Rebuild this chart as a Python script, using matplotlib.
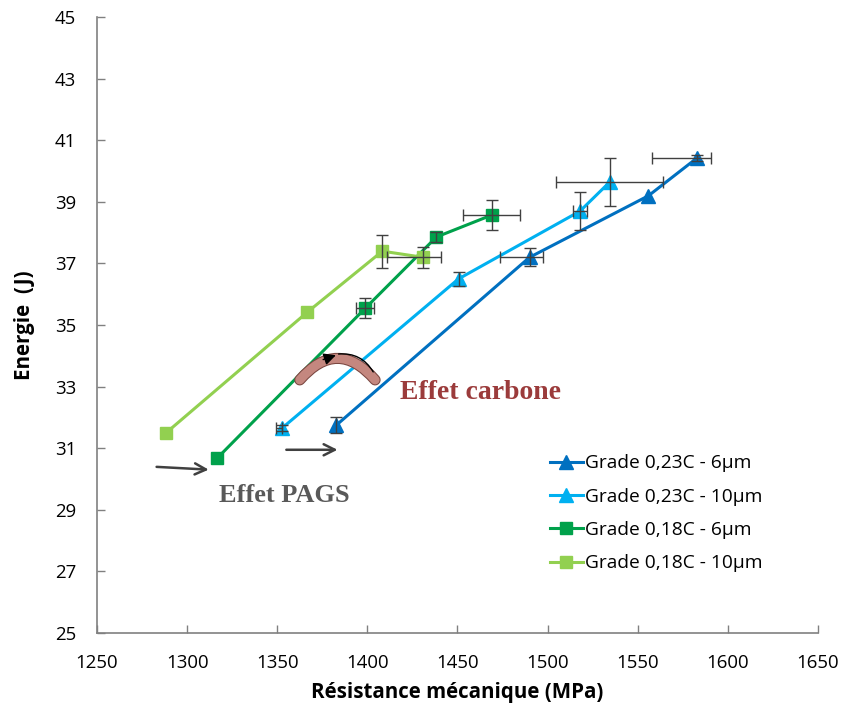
import numpy as np
import matplotlib
matplotlib.use("Agg")
from matplotlib import pyplot as plt
from matplotlib.patches import FancyArrowPatch
import matplotlib.patheffects as pe

plt.rcParams['font.family'] = ['Open Sans', 'DejaVu Sans']

labels = ['Grade 0,23C - 6µm', 'Grade 0,23C - 10µm', 'Grade 0,18C - 6µm', 'Grade 0,18C - 10µm']
colors = ['#0070c0', '#00b0f0', '#00a14b', '#92d050']
markers = ['^', '^', 's', 's']

x_023_6 = [1382.8, 1490.0, 1556.0, 1582.8]
y_023_6 = [31.75, 37.2, 39.2, 40.42]
x_023_10 = [1352.8, 1450.6, 1518.0, 1534.4]
y_023_10 = [31.66, 36.5, 38.7, 39.64]
x_018_6 = [1316.7, 1398.9, 1438.3, 1468.9]
y_018_6 = [30.68, 35.55, 37.86, 38.57]
x_018_10 = [1288.3, 1366.7, 1408.3, 1431.1]
y_018_10 = [31.5, 35.42, 37.4, 37.2]

# error bars (low, high) in MPa and J
xerr_lo_023_6 = [0, 16.5, 0, 25.0]
xerr_hi_023_6 = [0, 7.5, 0, 8.0]
yerr_023_6 = [0.26, 0.29, 0, 0.1]
xerr_lo_023_10 = [3.5, 0, 4.0, 29.8]
xerr_hi_023_10 = [0, 0, 4.0, 29.8]
yerr_023_10 = [0.1, 0.23, 0.62, 0.78]
xerr_lo_018_6 = [0, 5.0, 0, 15.7]
xerr_hi_018_6 = [0, 5.0, 0, 15.7]
yerr_018_6 = [0, 0.32, 0.15, 0.48]
xerr_lo_018_10 = [0, 0, 0, 20.0]
xerr_hi_018_10 = [0, 0, 0, 9.5]
yerr_018_10 = [0, 0, 0.54, 0.35]

series = [
    (x_023_6, y_023_6, xerr_lo_023_6, xerr_hi_023_6, yerr_023_6),
    (x_023_10, y_023_10, xerr_lo_023_10, xerr_hi_023_10, yerr_023_10),
    (x_018_6, y_018_6, xerr_lo_018_6, xerr_hi_018_6, yerr_018_6),
    (x_018_10, y_018_10, xerr_lo_018_10, xerr_hi_018_10, yerr_018_10),
]

fig = plt.figure(figsize=(8.44, 7.07), dpi=100)
ax = fig.add_axes([0.115, 0.1047, 0.854, 0.871])

for (x, y, xl, xh, ye), lab, c, m in zip(series, labels, colors, markers):
    ax.plot(x, y, color=c, lw=2.2, marker=m, markersize=10 if m == '^' else 9,
            label=lab, zorder=3)
    x = np.array(x); y = np.array(y)
    xl = np.array(xl); xh = np.array(xh); ye = np.array(ye)
    kx = (xl + xh) > 0
    if kx.any():
        ax.errorbar(x[kx], y[kx], xerr=[xl[kx], xh[kx]], fmt='none',
                    ecolor='#404040', elinewidth=1, capsize=4, capthick=1, zorder=4)
    ky = ye > 0
    if ky.any():
        ax.errorbar(x[ky], y[ky], yerr=ye[ky], fmt='none',
                    ecolor='#404040', elinewidth=1, capsize=4, capthick=1, zorder=4)

ax.set_xlim(1250, 1650)
ax.set_ylim(25, 45)
ax.set_xticks(np.arange(1250, 1651, 50))
ax.set_yticks(np.arange(25, 46, 2))
ax.spines['top'].set_visible(False)
ax.spines['right'].set_visible(False)
for s in ['left', 'bottom']:
    ax.spines[s].set_color('#808080')
    ax.spines[s].set_linewidth(1.2)
ax.tick_params(direction='in', length=6, width=1, color='#808080',
               labelsize=13.4, labelcolor='#000000', pad=15)

ax.set_xlabel('Résistance mécanique (MPa)', fontsize=14.8, fontweight='bold', labelpad=7)
ax.set_ylabel('Energie  (J)', fontsize=14.8, fontweight='bold', labelpad=14)

ax.legend(loc='upper left', bbox_to_anchor=(0.604, 0.318), frameon=False,
          fontsize=13.8, handlelength=1.75, handletextpad=0.1, labelspacing=0.8)

# annotations
serif = ['Liberation Serif', 'DejaVu Serif']
ax.text(1418, 32.8, 'Effet carbone', family=serif, fontweight='bold',
        fontsize=20, color='#9b3b3b', va='center', ha='left')
ax.text(1317.5, 29.45, 'Effet PAGS', family=serif, fontweight='bold',
        fontsize=19, color='#595959', va='center', ha='left')

ax.annotate('', xy=(1313.5, 30.3), xytext=(1281.5, 30.4),
            arrowprops=dict(arrowstyle='->', color='#404040', lw=1.8,
                            mutation_scale=20))
ax.annotate('', xy=(1385, 30.95), xytext=(1353.5, 30.95),
            arrowprops=dict(arrowstyle='->', color='#404040', lw=1.8,
                            mutation_scale=20))

arc = FancyArrowPatch((1361.5, 33.15), (1405.3, 33.15),
                      connectionstyle='arc3,rad=-0.6', arrowstyle='-',
                      color='#c4877f', lw=6.5, zorder=5,
                      path_effects=[pe.Stroke(linewidth=8, foreground='#7a4640'), pe.Normal()])
ax.add_patch(arc)
ax.add_patch(FancyArrowPatch((1382.5, 34.05), (1404.0, 33.4),
                             connectionstyle='arc3,rad=-0.35', arrowstyle='-',
                             color='black', lw=1, zorder=6))
ax.annotate('', xy=(1384, 34.05), xytext=(1374, 33.85),
            arrowprops=dict(arrowstyle='-|>', color='black', lw=1,
                            mutation_scale=18), zorder=6)

fig.savefig('out.png', dpi=100)
